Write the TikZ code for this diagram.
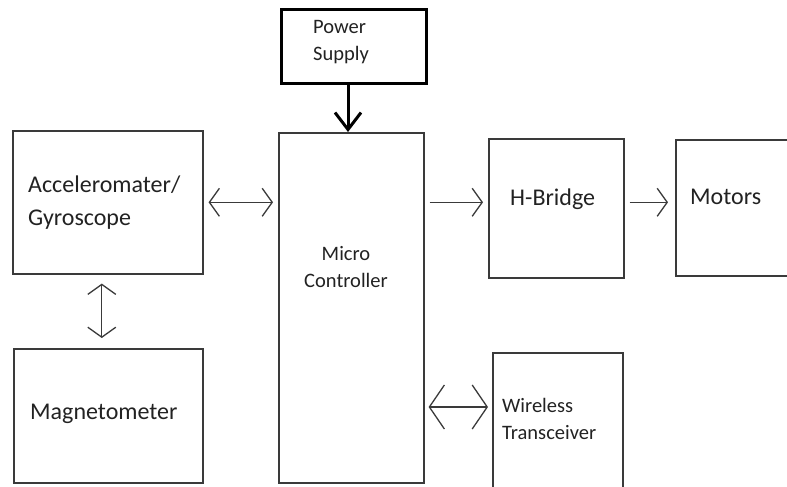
\documentclass[tikz,border=0pt]{standalone}
\usepackage{fontspec}
\setmainfont{Carlito}
\usetikzlibrary{arrows.meta,calc}
\definecolor{edge}{HTML}{3A3A3A}
\definecolor{ink}{HTML}{222222}
\tikzset{
  block/.style={draw=edge, line width=1.6pt, rectangle, inner sep=0pt},
  bigtxt/.style={text=ink, font=\fontsize{24}{33}\selectfont, align=left, inner sep=0pt},
  smalltxt/.style={text=ink, font=\fontsize{20.5}{26.5}\selectfont, inner sep=0pt},
  link/.style={draw=edge, line width=1.3pt,
    -{Straight Barb[length=10pt,width=28pt,line width=1.3pt]}},
  dbl/.style={draw=edge, line width=1.3pt,
    {Straight Barb[length=10pt,width=28pt,line width=1.3pt]}-{Straight Barb[length=10pt,width=28pt,line width=1.3pt]}},
  feed/.style={draw=black, line width=3pt,
    -{Straight Barb[length=17pt,width=26pt,line width=3pt]}},
}
\begin{document}
\begin{tikzpicture}[x=1pt,y=-1pt]
\useasboundingbox (0,0) rectangle (787,487);

% blocks
\node[block, minimum width=145pt, minimum height=74pt, draw=black, line width=3pt, anchor=north west] (power) at (280,8) {};
\node[block, minimum width=145pt, minimum height=350pt, anchor=north west] (micro) at (278,132) {};
\node[block, minimum width=190pt, minimum height=143pt, anchor=north west] (acc) at (12,130) {};
\node[block, minimum width=189pt, minimum height=134pt, anchor=north west] (mag) at (13,348) {};
\node[block, minimum width=135pt, minimum height=139pt, anchor=north west] (hb) at (488,138) {};
\node[block, minimum width=140pt, minimum height=136pt, anchor=north west] (mot) at (675,139) {};
\node[block, minimum width=130pt, minimum height=136pt, anchor=north west] (wl) at (492,352) {};

% labels
\node[smalltxt, anchor=west, align=left] (powertxt) at (313,42) {Power\\Supply};
\node[smalltxt, align=center] (microtxt) at (346,267) {Micro\\Controller};
\node[bigtxt, anchor=west] (acctxt) at (28,203) {Acceleromater/\\Gyroscope};
\node[bigtxt, anchor=west] (magtxt) at (30,414) {Magnetometer};
\node[bigtxt, anchor=west] (hbtxt) at (510,199) {H-Bridge};
\node[bigtxt, anchor=west] (mottxt) at (690,197) {Motors};
\node[smalltxt, anchor=west, align=left] (wltxt) at (502,419) {Wireless\\Transceiver};

% connectors
\coordinate (pfoot) at ($(power.south)+(-6,0)$);
\draw[feed] (pfoot) -- (pfoot |- micro.north);
\draw[dbl, shorten <=5pt, shorten >=5pt] (acc.east) -- (acc.east -| micro.west);
\draw[dbl, shorten <=9pt, shorten >=10pt] ($(acc.south)+(-6,0)$) -- ($(mag.north)+(-6.5,0)$);
\draw[link, shorten <=5pt, shorten >=5pt] (micro.east |- acc.east) -- (hb.west |- acc.east);
\draw[link, shorten <=5pt, shorten >=7pt] (hb.east |- acc.east) -- (mot.west |- acc.east);
\coordinate (wlrow) at (0,407);
\draw[dbl, shorten <=4pt, shorten >=4pt,
  {Straight Barb[length=15pt,width=44pt,line width=1.3pt]}-{Straight Barb[length=15pt,width=44pt,line width=1.3pt]}]
  (micro.east |- wlrow) -- (wl.west |- wlrow);
\end{tikzpicture}
\end{document}
